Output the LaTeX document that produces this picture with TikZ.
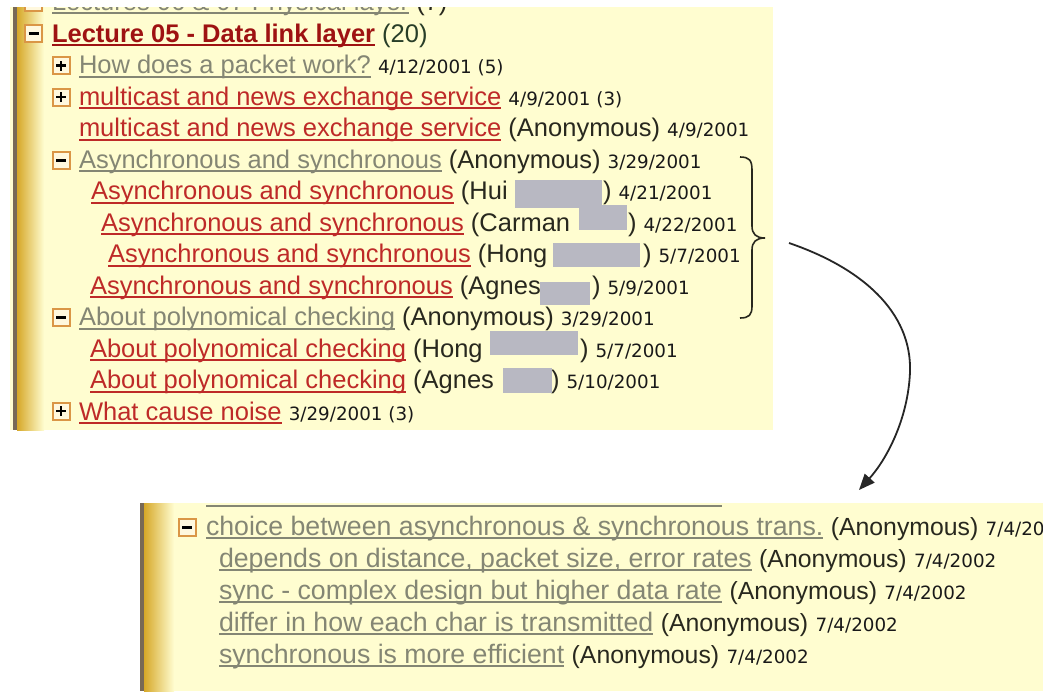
\documentclass[tikz,border=0pt]{standalone}
\usepackage{fontspec}
\setmainfont{Liberation Sans}
\newfontfamily\datefont{DejaVu Sans}
\usetikzlibrary{arrows.meta}
\definecolor{panel}{RGB}{255,253,208}
\definecolor{redlink}{RGB}{190,42,40}
\definecolor{lecred}{RGB}{158,18,18}
\definecolor{graylink}{RGB}{132,134,116}
\definecolor{txt}{RGB}{40,40,30}
\definecolor{cnt}{RGB}{40,62,40}
\definecolor{datec}{RGB}{25,25,25}
\definecolor{gold}{RGB}{214,168,40}
\definecolor{edgec}{RGB}{120,105,85}
\definecolor{redact}{RGB}{184,184,194}
\definecolor{iconedge}{RGB}{218,150,70}
\definecolor{iconfill}{RGB}{255,248,222}
\newcommand\ulk[1]{\setbox0\hbox{#1}\rlap{\vrule height -2.4pt depth 4.4pt width \wd0}\box0}
\newcommand\redL[1]{{\color{redlink}\ulk{#1}}}
\newcommand\grayL[1]{{\color{graylink}\ulk{#1}}}
\newcommand\anonT[1]{{\color{txt}#1}}
\newcommand\dateT[1]{{\datefont\fontsize{18.3}{20}\selectfont\color{datec}#1}}
\newcommand\anonB[1]{{\fontsize{24.8}{28}\selectfont\color{txt}#1}}
\tikzset{
  row/.style={anchor=base west, inner sep=0pt, outer sep=0pt, font=\fontsize{25.5}{30}\selectfont},
  rowb/.style={anchor=base west, inner sep=0pt, outer sep=0pt, font=\fontsize{26.7}{30}\selectfont},
  icon/.style={draw=iconedge, fill=iconfill, line width=2pt, minimum size=17pt, inner sep=0pt, outer sep=0pt},
  minusicon/.style={icon, path picture={\draw[line width=3pt,black] ([xshift=-5pt]path picture bounding box.center) -- ([xshift=5pt]path picture bounding box.center);}},
  plusicon/.style={icon, path picture={\draw[line width=2.8pt,black] ([xshift=-5pt]path picture bounding box.center) -- ([xshift=5pt]path picture bounding box.center) ([yshift=-5pt]path picture bounding box.center) -- ([yshift=5pt]path picture bounding box.center);}},
  redbox/.style={fill=redact, draw=none},
  brace/.style={draw=txt, line width=1.6pt},
  link/.style={draw=black!85, line width=1.8pt, -{Triangle[length=16pt,width=13pt]}}
}
\begin{document}
\begin{tikzpicture}[x=1pt,y=-1pt]
\useasboundingbox (0,0) rectangle (1043,691);
\fill[white] (0,0) rectangle (1043,691);
% ---------- top panel ----------
\begin{scope}
\clip (10,7) rectangle (773,430);
\fill[panel] (10,7) rectangle (773,430);
\fill[edgec] (13,7) rectangle (17,430);
\shade[left color=gold, right color=panel] (17,7) rectangle (44,430);
\node[minusicon] (i0) at (33.5,2) {};
\node[row] (r0) at (52,10) {\grayL{Lectures 06 \& 07 Physical layer} \anonT{(7)}};
\node[minusicon] (i1) at (33.5,33.5) {};
\node[row] (r1) at (52,42) {{\bfseries\color{lecred}\ulk{Lecture 05 - Data link layer}} {\color{cnt}(20)}};
\node[plusicon] (i2) at (61,65.5) {};
\node[row] (r2) at (79,73.5) {\grayL{How does a packet work?} \dateT{4/12/2001 (5)}};
\node[plusicon] (i3) at (61,97) {};
\node[row] (r3) at (79,105) {\redL{multicast and news exchange service} \dateT{4/9/2001 (3)}};
\node[row] (r4) at (79,136.5) {\redL{multicast and news exchange service} \anonT{(Anonymous)} \dateT{4/9/2001}};
\node[minusicon] (i5) at (61,160) {};
\node[row] (r5) at (79,168) {\grayL{Asynchronous and synchronous} \anonT{(Anonymous)} \dateT{3/29/2001}};
\node[row] (r6) at (91,199.5) {\redL{Asynchronous and synchronous} \anonT{(Hui}};
\node[row] (r6b) at (603,199.5) {\anonT{)} \dateT{4/21/2001}};
\node[row] (r7) at (101,231) {\redL{Asynchronous and synchronous} \anonT{(Carman}};
\node[row] (r7b) at (628,231) {\anonT{)} \dateT{4/22/2001}};
\node[row] (r8) at (108,262.5) {\redL{Asynchronous and synchronous} \anonT{(Hong}};
\node[row] (r8b) at (643,262.5) {\anonT{)} \dateT{5/7/2001}};
\node[row] (r9) at (90,294) {\redL{Asynchronous and synchronous} \anonT{(Agnes}};
\node[row] (r9b) at (592,294) {\anonT{)} \dateT{5/9/2001}};
\node[minusicon] (i10) at (61,317.5) {};
\node[row] (r10) at (79,325.5) {\grayL{About polynomical checking} \anonT{(Anonymous)} \dateT{3/29/2001}};
\node[row] (r11) at (90,357) {\redL{About polynomical checking} \anonT{(Hong}};
\node[row] (r11b) at (580,357) {\anonT{)} \dateT{5/7/2001}};
\node[row] (r12) at (90,388.5) {\redL{About polynomical checking} \anonT{(Agnes}};
\node[row] (r12b) at (551,388.5) {\anonT{)} \dateT{5/10/2001}};
\node[plusicon] (i13) at (61,411) {};
\node[row] (r13) at (79,420) {\redL{What cause noise} \dateT{3/29/2001 (3)}};
% redactions
\fill[redbox] (515,180) rectangle (602,208);
\fill[redbox] (579,205) rectangle (627,230);
\fill[redbox] (553,243) rectangle (640,267);
\fill[redbox] (540,282) rectangle (590,305);
\fill[redbox] (490,331) rectangle (578,355);
\fill[redbox] (503,368) rectangle (552,393);
\end{scope}
% brace
\draw[brace] (740,157) .. controls (749,157) and (752,160) .. (752,170) -- (752,226) .. controls (752,234) and (756,238) .. (765,238) .. controls (756,238) and (752,242) .. (752,250) -- (752,306) .. controls (752,315) and (749,318) .. (740,318);
% ---------- bottom panel ----------
\begin{scope}
\clip (140,503) rectangle (1043,691);
\fill[panel] (140,503) rectangle (1043,691);
\fill[edgec] (140,503) rectangle (144,691);
\shade[left color=gold, right color=panel] (144,503) rectangle (174,691);
\draw[graylink, line width=2pt] (206,506) -- (722,506);
\node[minusicon] (b1i) at (187,527) {};
\node[rowb] (b1) at (206,535) {\grayL{choice between asynchronous \& synchronous trans.} \anonB{(Anonymous)} \dateT{7/4/2002}};
\node[rowb] (b2) at (219,567) {\grayL{depends on distance, packet size, error rates} \anonB{(Anonymous)} \dateT{7/4/2002}};
\node[rowb] (b3) at (219,599) {\grayL{sync - complex design but higher data rate} \anonB{(Anonymous)} \dateT{7/4/2002}};
\node[rowb] (b4) at (219,631) {\grayL{differ in how each char is transmitted} \anonB{(Anonymous)} \dateT{7/4/2002}};
\node[rowb] (b5) at (219,663) {\grayL{synchronous is more efficient} \anonB{(Anonymous)} \dateT{7/4/2002}};
\end{scope}
% arrow
\coordinate (as) at (789,243);
\coordinate (ae) at (859,490);
\draw[link] (as) .. controls (862,268) and (912,312) .. (910,372) .. controls (908,420) and (886,460) .. (ae);
\end{tikzpicture}
\end{document}
